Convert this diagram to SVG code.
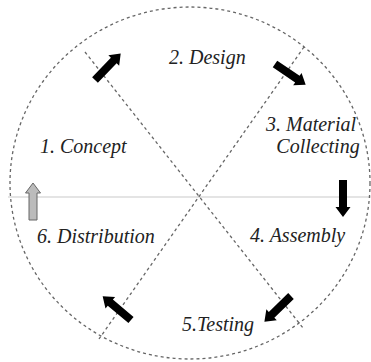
<svg xmlns="http://www.w3.org/2000/svg" width="371" height="362" viewBox="0 0 371 362">
<defs>
<style>
.dash{fill:none;stroke:#666;stroke-width:1.3;stroke-dasharray:3 3}
.lbl{font-family:"Liberation Serif","Times New Roman",serif;font-style:italic;font-size:20px;fill:#222}
.arr{fill:#000}
.arrg{fill:#bbb;stroke:#666;stroke-width:1}
</style>
<polygon id="ah" points="0,-4 27,-4 27,-7.5 37,0 27,7.5 27,4 0,4"/>
</defs>
<rect width="371" height="362" fill="#fff"/>
<g id="connectors">
<line x1="8" y1="197" x2="371" y2="197" stroke="#e4e4e4" stroke-width="2"/>
<ellipse class="dash" cx="190" cy="183" rx="180" ry="176"/>
<line class="dash" x1="85" y1="52" x2="303" y2="328"/>
<line class="dash" x1="304" y1="47" x2="99" y2="339"/>
<use href="#ah" class="arr" transform="translate(95,80) rotate(-46)"/>
<use href="#ah" class="arr" transform="translate(275,64) rotate(34)"/>
<use href="#ah" class="arr" transform="translate(343,180) rotate(90)"/>
<use href="#ah" class="arr" transform="translate(291,296) rotate(136)"/>
<use href="#ah" class="arr" transform="translate(131,320) rotate(220)"/>
<use href="#ah" class="arrg" transform="translate(33,220) rotate(-90)"/>
</g>
<g id="n1"><text class="lbl" x="40" y="153">1. Concept</text></g>
<g id="n2"><text class="lbl" x="169" y="64">2. Design</text></g>
<g id="n3"><text class="lbl" x="311" y="131" text-anchor="middle">3. Material</text><text class="lbl" x="318" y="153" text-anchor="middle">Collecting</text></g>
<g id="n4"><text class="lbl" x="250" y="242">4. Assembly</text></g>
<g id="n5"><text class="lbl" x="182" y="331">5.Testing</text></g>
<g id="n6"><text class="lbl" x="37" y="243">6. Distribution</text></g>
</svg>
